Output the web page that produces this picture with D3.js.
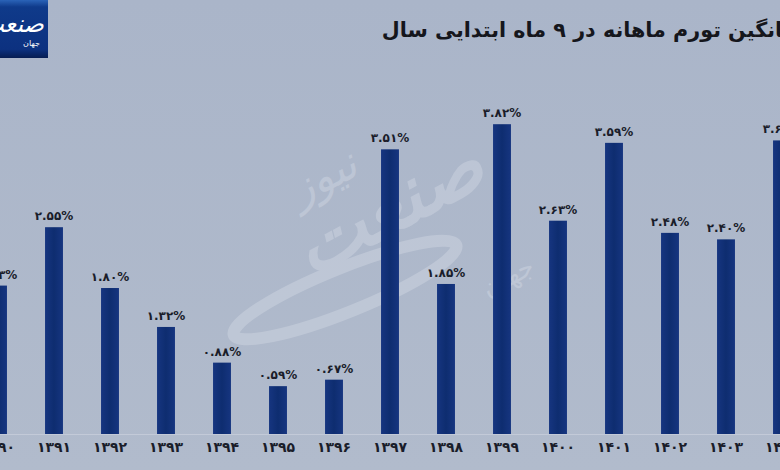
<!DOCTYPE html>
<html><head><meta charset="utf-8">
<script src="https://cdn.jsdelivr.net/npm/d3@7"></script>
<style>html,body{margin:0;padding:0;background:#aeb8ca;}svg{display:block;}</style>
</head><body>
<script>
const years = ["1390","1391","1392","1393","1394","1395","1396","1397","1398","1399","1400","1401","1402","1403","1404"];
const values = [1.83,2.55,1.80,1.32,0.88,0.59,0.67,3.51,1.85,3.82,2.63,3.59,2.48,2.40,3.62];
const title = "میانگین تورم ماهانه در ۹ ماه ابتدایی سال";

const W = 780, H = 470;
const fa = s => String(s).replace(/[0-9]/g, d => "۰۱۲۳۴۵۶۷۸۹"[+d]);

const svg = d3.select("body").append("svg").attr("width", W).attr("height", H);
const defs = svg.append("defs");
const bg = defs.append("linearGradient").attr("id","bg").attr("x1",0).attr("y1",0).attr("x2",0).attr("y2",1);
bg.append("stop").attr("offset","0%").attr("stop-color","#aab5c9");
bg.append("stop").attr("offset","100%").attr("stop-color","#b1bbcc");
svg.append("rect").attr("width",W).attr("height",H).attr("fill","url(#bg)");

// watermark
const wm = svg.append("g").attr("opacity",0.25).attr("fill","#eef1f7");
wm.append("ellipse").attr("cx",345).attr("cy",290).attr("rx",120).attr("ry",22)
  .attr("transform","rotate(-22,345,290)").attr("fill","none").attr("stroke","#eef1f7").attr("stroke-width",12);
wm.append("text").attr("x",400).attr("y",230).attr("text-anchor","middle")
  .attr("transform","rotate(-28,400,230)")
  .style("font-family","DejaVu Sans").style("font-style","italic").style("font-size","78px").style("font-weight","bold")
  .text("صنعت");
wm.append("text").attr("x",330).attr("y",190).attr("text-anchor","middle")
  .attr("transform","rotate(-28,330,190)")
  .style("font-family","DejaVu Sans").style("font-style","italic").style("font-size","44px")
  .text("نیوز");
wm.append("text").attr("x",512).attr("y",285).attr("text-anchor","middle")
  .attr("transform","rotate(-28,512,285)")
  .style("font-family","DejaVu Sans").style("font-size","26px")
  .text("جهان");

const x = d3.scaleBand().domain(years).range([-30, 810]).paddingInner(0.68).paddingOuter(0.34);
const y = d3.scaleLinear().domain([0, 4]).range([434, 434 - 4*81.1]);

// baseline
svg.append("line").attr("x1",0).attr("x2",W).attr("y1",y(0)+0.5).attr("y2",y(0)+0.5)
  .attr("stroke","#c3cad8").attr("stroke-width",1);

const barG = defs.append("linearGradient").attr("id","bar").attr("x1",0).attr("x2",1).attr("y1",0).attr("y2",0);
barG.append("stop").attr("offset","0%").attr("stop-color","#163580");
barG.append("stop").attr("offset","50%").attr("stop-color","#0e2d70");
barG.append("stop").attr("offset","100%").attr("stop-color","#163580");

svg.selectAll("rect.bar").data(years).join("rect").attr("class","bar")
  .attr("x", d => x(d)).attr("width", x.bandwidth())
  .attr("y", (d,i) => y(values[i])).attr("height", (d,i) => y(0) - y(values[i]))
  .attr("fill","url(#bar)");

svg.selectAll("text.val").data(years).join("text").attr("class","val")
  .attr("x", d => x(d) + x.bandwidth()/2).attr("y", (d,i) => y(values[i]) - 7)
  .attr("text-anchor","middle")
  .style("font-family","DejaVu Sans").style("font-weight","bold").style("font-size","12px").attr("fill","#1a1d2a")
  .text((d,i) => fa(values[i].toFixed(2)) + "%");

const xAxis = d3.axisBottom(x).tickSize(0).tickPadding(8).tickFormat(fa);
const ax = svg.append("g").attr("transform",`translate(0,${y(0)})`).call(xAxis);
ax.select(".domain").remove();
ax.selectAll("text").style("font-family","DejaVu Sans").style("font-weight","bold").style("font-size","14px").attr("fill","#1a1d2a");

// title (cut at the right edge as in the reference)
svg.append("text").attr("x", 804).attr("y", 37).attr("text-anchor","end")
  .style("font-family","DejaVu Sans").style("font-weight","bold").style("font-size","20.7px").attr("fill","#15161c")
  .text(title);

// logo
const lg = defs.append("linearGradient").attr("id","logo").attr("x1",0).attr("y1",0).attr("x2",0).attr("y2",1);
lg.append("stop").attr("offset","0%").attr("stop-color","#2a63b8");
lg.append("stop").attr("offset","12%").attr("stop-color","#0f3a8a");
lg.append("stop").attr("offset","85%").attr("stop-color","#0c3180");
lg.append("stop").attr("offset","100%").attr("stop-color","#061d52");
svg.append("rect").attr("x",0).attr("y",0).attr("width",48).attr("height",58).attr("fill","url(#logo)");
svg.append("text").attr("x",44).attr("y",32).attr("text-anchor","end")
  .style("font-family","DejaVu Sans").style("font-style","italic").style("font-size","24px").attr("fill","#ffffff")
  .text("صنعت");
svg.append("text").attr("x",40).attr("y",46).attr("text-anchor","end")
  .style("font-family","DejaVu Sans").style("font-size","8px").attr("fill","#ffffff")
  .text("جهان");
</script>
</body></html>
